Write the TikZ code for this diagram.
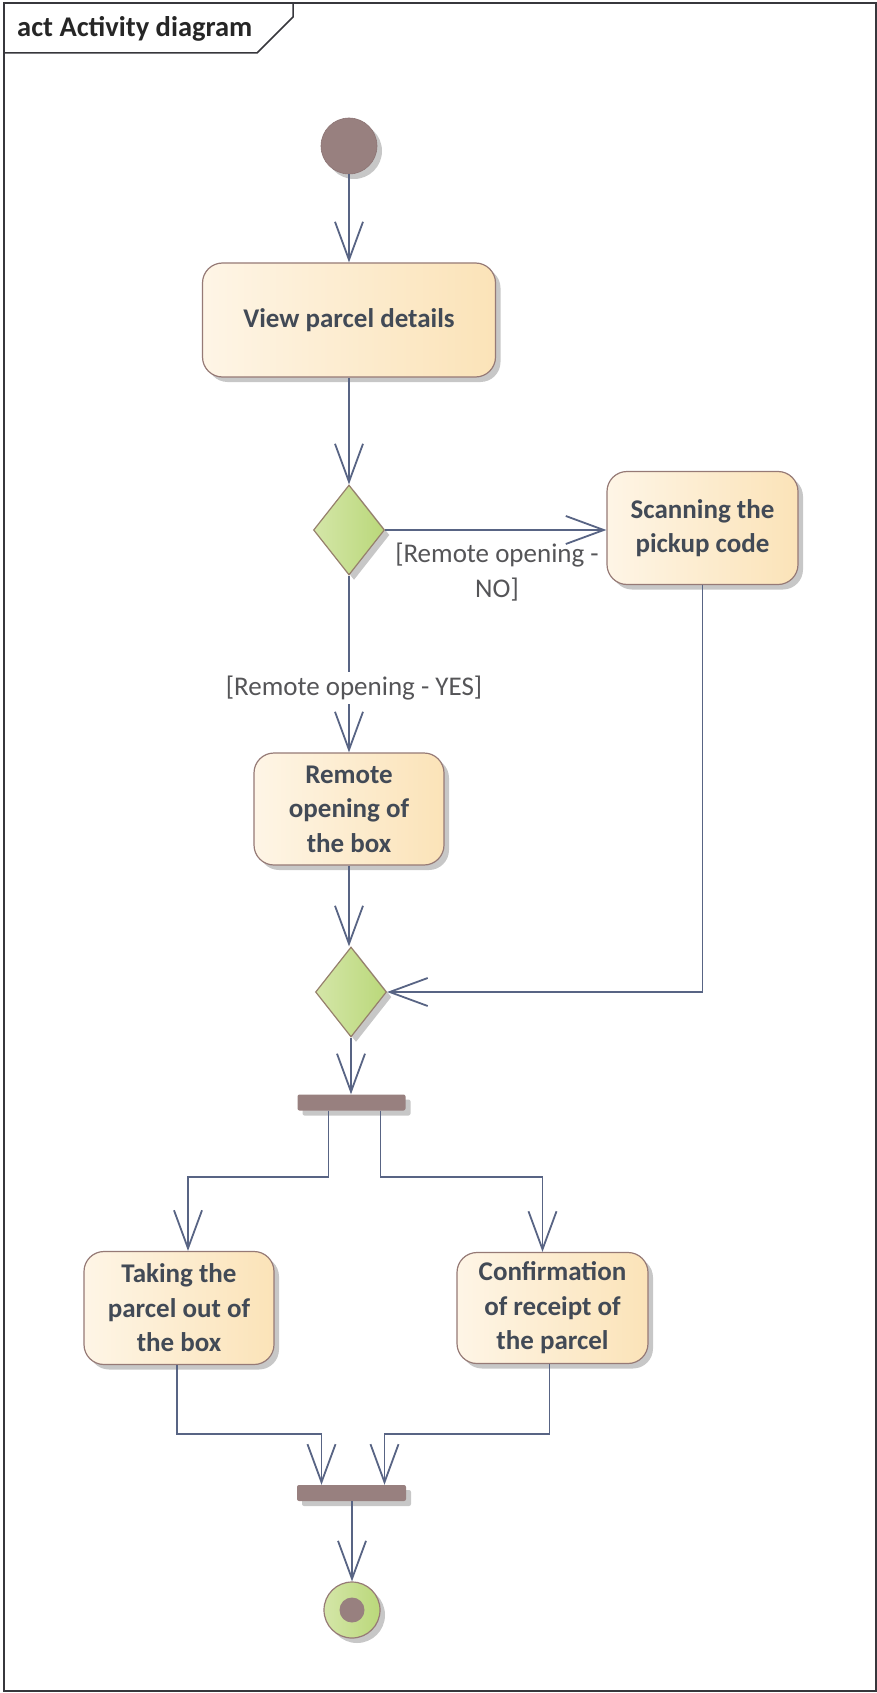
\documentclass[tikz,border=0pt]{standalone}
\usepackage{fontspec}
\setmainfont{Carlito}
\usetikzlibrary{arrows.meta,shapes.geometric,shadows}

\definecolor{flowc}{RGB}{88,100,132}
\definecolor{boxborder}{RGB}{150,122,118}
\definecolor{boxl}{RGB}{254,245,230}
\definecolor{boxr}{RGB}{251,227,184}
\definecolor{boxtext}{RGB}{66,74,86}
\definecolor{nodebrown}{RGB}{152,128,127}
\definecolor{nodebrownd}{RGB}{140,116,116}
\definecolor{greenl}{RGB}{212,230,168}
\definecolor{greenr}{RGB}{186,216,122}
\definecolor{diaborder}{RGB}{150,128,108}
\definecolor{guardtext}{RGB}{85,85,88}
\definecolor{framec}{RGB}{55,55,60}

\newcommand{\actfont}{\bfseries\fontsize{27}{34.5}\selectfont}
\newcommand{\guardfont}{\fontsize{27}{35}\selectfont}

\begin{document}
\begin{tikzpicture}[x=1pt,y=-1pt,
  softshadow/.style={drop shadow={shadow xshift=5pt, shadow yshift=-5pt, opacity=0.22, fill=black}},
  action/.style={rectangle, rounded corners=20pt, draw=boxborder, line width=1.2pt,
    left color=boxl, right color=boxr, text=boxtext, font=\actfont, align=center,
    inner sep=0pt, softshadow},
  decision/.style={diamond, draw=diaborder, line width=1.2pt, left color=greenl, right color=greenr,
    minimum width=71pt, minimum height=90pt, inner sep=0pt, softshadow},
  startnode/.style={circle, fill=nodebrown, draw=nodebrownd, line width=0.6pt,
    minimum size=56pt, inner sep=0pt, softshadow},
  endnode/.style={circle, draw=boxborder, line width=1.2pt, left color=greenl, right color=greenr,
    minimum size=56pt, inner sep=0pt, softshadow},
  enddot/.style={circle, fill=nodebrown, minimum size=25pt, inner sep=0pt},
  bar/.style={rectangle, rounded corners=2pt, fill=nodebrown, minimum height=16pt,
    inner sep=0pt, softshadow},
  guard/.style={text=guardtext, font=\guardfont, align=center, inner sep=0pt},
  flow/.style={draw=flowc, line width=1.8pt, -{Straight Barb[length=38pt,width=28pt]}},
  frameline/.style={draw=framec, line width=1.5pt}
]
\useasboundingbox (0,0) rectangle (877,1693);
\fill[white] (0,0) rectangle (877,1693);

% diagram frame and its name tab
\draw[frameline] (4,3) rectangle (876,1691);
\draw[frameline] (4,53) -- (257,53) -- (293,17) -- (293,3);
\node[anchor=base west, inner sep=0pt, font=\bfseries\fontsize{28.5}{33}\selectfont, text=black!85]
  (title) at (17,37) {act Activity diagram};

% nodes
\node[startnode] (start) at (349,146) {};
\node[action, minimum width=293pt, minimum height=114pt] (view) at (349,320) {View parcel details};
\node[decision] (dec1) at (349,530) {};
\node[action, minimum width=191pt, minimum height=113pt] (scan) at (702.5,528) {Scanning the\\pickup code};
\node[action, minimum width=190pt, minimum height=112pt] (remote) at (349,809) {Remote\\opening of\\the box};
\node[decision] (dec2) at (351,992) {};
\node[bar, minimum width=108pt] (fork) at (351.5,1102.5) {};
\node[action, minimum width=190pt, minimum height=113pt] (take) at (179,1308) {Taking the\\parcel out of\\the box};
\node[action, minimum width=191pt, minimum height=111pt] (conf) at (552.5,1308) {Confirmation\\of receipt of\\the parcel};
\node[bar, minimum width=109pt] (join) at (351.5,1493) {};
\node[endnode] (end) at (352,1610) {};
\node[enddot] (endc) at (352,1610) {};

% control flows
\draw[flow] (start) -- (view);
\draw[flow] (view) -- (dec1);
\draw[flow] (dec1.east) -- (dec1.east -| scan.west);
\draw[flow] (dec1) -- (remote);
\draw[flow] (scan.south) |- (dec2.east);
\draw[flow] (remote.south) -- (remote.south |- dec2.north);
\draw[flow] (dec2) -- (dec2.south |- fork.north);
\draw[flow] ([xshift=-23pt]fork.south) -- ++(0,66) -| ([xshift=9pt]take.north);
\draw[flow] ([xshift=29pt]fork.south) -- ++(0,66) -| ([xshift=-10pt]conf.north);
\draw[flow] ([xshift=-2pt]take.south) -- ++(0,69) -| ([xshift=-30pt]join.north);
\draw[flow] ([xshift=-3pt]conf.south) -- ++(0,70) -| ([xshift=33pt]join.north);
\draw[flow] (join.south -| end.north) -- (end.north);

% guard labels, drawn over the flows
\node[guard] (gno) at (497,572) {[Remote opening -\\NO]};
\node[guard, fill=white, inner ysep=4pt] (gyes) at (354,688) {[Remote opening - YES]};
\end{tikzpicture}
\end{document}
